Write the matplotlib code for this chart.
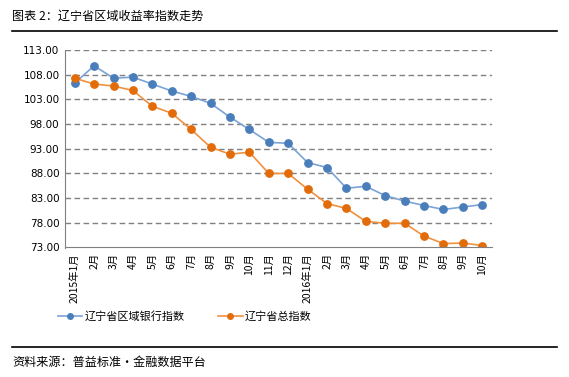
import matplotlib
matplotlib.use('Agg')
import matplotlib.pyplot as plt
from matplotlib.lines import Line2D

plt.rcParams['font.family'] = ['Noto Sans CJK SC', 'DejaVu Sans']

# 数据
months = ['2015年1月', '2月', '3月', '4月', '5月', '6月', '7月', '8月', '9月', '10月', '11月', '12月',
          '2016年1月', '2月', '3月', '4月', '5月', '6月', '7月', '8月', '9月', '10月']
bank_index = [106.3, 109.8, 107.3, 107.5, 106.1, 104.7, 103.6, 102.2, 99.4, 96.9, 94.3, 94.1,
              90.2, 89.2, 85.0, 85.4, 83.5, 82.4, 81.5, 80.7, 81.2, 81.7]
total_index = [107.3, 106.1, 105.7, 104.8, 101.6, 100.2, 96.9, 93.3, 91.9, 92.3, 88.0, 88.0,
               84.8, 81.9, 80.9, 78.3, 77.9, 77.9, 75.3, 73.8, 73.9, 73.4]
yticks = [73, 78, 83, 88, 93, 98, 103, 108, 113]

W, H = 569, 377
fig = plt.figure(figsize=(W / 100, H / 100), dpi=100)
ax = fig.add_axes([65 / W, 1 - 247.5 / H, (492 - 65) / W, (247.5 - 50) / H])

x = range(len(months))
ax.plot(x, bank_index, color='#7BA3D6', lw=1.2, marker='o', ms=5.3,
        markerfacecolor='#4A7EBB', markeredgecolor='#4A7EBB', label='辽宁省区域银行指数')
ax.plot(x, total_index, color='#F0913F', lw=1.2, marker='o', ms=5.3,
        markerfacecolor='#E36C0A', markeredgecolor='#E36C0A', label='辽宁省总指数')

ax.set_xlim(-0.5, len(months) - 0.5)
ax.set_ylim(73, 113)
ax.set_yticks(yticks)
ax.set_yticklabels(['%.2f' % v for v in yticks], fontsize=7.5, family=['DejaVu Sans'])
ax.set_xticks(list(x))
ax.set_xticklabels(months, rotation=90, fontsize=7.5, va='top')
ax.tick_params(length=0, pad=4)
ax.grid(axis='y', color='#808080', ls=(0, (4, 2.5)), lw=1)
ax.set_axisbelow(True)
for s in ['top', 'right']:
    ax.spines[s].set_visible(False)
ax.spines['left'].set_color('#808080')
ax.spines['bottom'].set_color('#808080')

fig.legend(loc='center left', bbox_to_anchor=(48 / W, 1 - 316 / H), ncol=2, frameon=False,
           fontsize=8, handlelength=2.2, columnspacing=3.0, handletextpad=0.2, markerscale=0.75)

# 标题和来源
fig.text(12 / W, 1 - 16 / H, '图表 2：辽宁省区域收益率指数走势', fontsize=8.7, va='center', ha='left')
fig.add_artist(Line2D([12 / W, 557 / W], [1 - 30.5 / H, 1 - 30.5 / H], color='black', lw=1.2))
fig.add_artist(Line2D([12 / W, 557 / W], [1 - 346.5 / H, 1 - 346.5 / H], color='black', lw=1.2))
fig.text(12 / W, 1 - 362 / H, '资料来源：普益标准・金融数据平台', fontsize=8.7, va='center', ha='left')

fig.savefig('out.png', dpi=100)
